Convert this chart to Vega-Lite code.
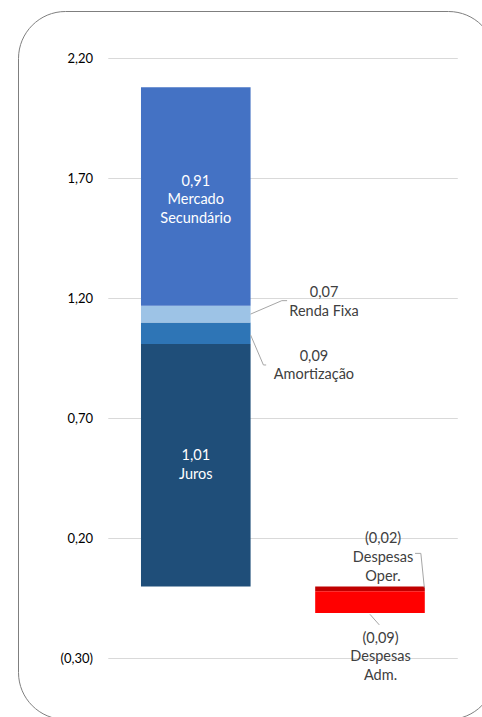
{
  "$schema": "https://vega.github.io/schema/vega-lite/v6.json",
  "width": 477,
  "height": 708,
  "autosize": {"type": "none"},
  "padding": {"left": 18, "top": 11, "right": 0, "bottom": 0},
  "background": "#ffffff",
  "config": {
    "locale": {"number": {"decimal": ",", "thousands": ".", "grouping": [3], "currency": ["R$ ", ""]}},
    "view": {"stroke": "#7f7f7f", "strokeWidth": 1, "cornerRadius": 47},
    "text": {"font": "Lato"}
  },
  "datasets": {
    "fluxo": [
      {"grupo": "Receitas", "item": "Juros", "rotulo": "Juros", "valor": 1.01, "ordem": 1},
      {"grupo": "Receitas", "item": "Amortização", "rotulo": "Amortização", "valor": 0.09, "ordem": 2},
      {"grupo": "Receitas", "item": "Renda Fixa", "rotulo": "Renda Fixa", "valor": 0.07, "ordem": 3},
      {"grupo": "Receitas", "item": "Mercado Secundário", "rotulo": "Mercado\nSecundário", "valor": 0.91, "ordem": 4},
      {"grupo": "Despesas", "item": "Despesas Oper.", "rotulo": "Despesas\nOper.", "valor": -0.02, "ordem": 1},
      {"grupo": "Despesas", "item": "Despesas Adm.", "rotulo": "Despesas\nAdm.", "valor": -0.09, "ordem": 2}
    ],
    "grade": [{"v": -0.3}, {"v": 0.2}, {"v": 0.7}, {"v": 1.2}, {"v": 1.7}, {"v": 2.2}]
  },
  "data": {"name": "fluxo"},
  "transform": [
    {"calculate": "format(datum.valor, '(.2f') + '\\n' + datum.rotulo", "as": "texto"}
  ],
  "layer": [
    {
      "data": {"name": "grade"},
      "mark": {"type": "rule", "color": "#d9d9d9", "strokeWidth": 1},
      "encoding": {
        "y": {"field": "v", "type": "quantitative", "axis": null},
        "x": {"datum": "Receitas", "type": "nominal", "bandPosition": -0.2986, "axis": null},
        "x2": {"datum": "Despesas", "bandPosition": 1.301}
      }
    },
    {
      "data": {"name": "grade"},
      "mark": {"type": "text", "color": "#000000", "fontSize": 13, "align": "right", "baseline": "middle", "dy": 1},
      "encoding": {
        "y": {"field": "v", "type": "quantitative", "axis": null},
        "x": {"datum": "Receitas", "type": "nominal", "bandPosition": -0.438, "axis": null},
        "text": {"field": "v", "type": "quantitative", "format": "(.2f"}
      }
    },
    {
      "mark": {"type": "bar"},
      "encoding": {
        "x": {
          "field": "grupo", "type": "nominal", "axis": null,
          "scale": {"domain": ["Receitas", "Despesas"], "paddingInner": 0.3708, "paddingOuter": 0.5545, "align": 0.6366}
        },
        "y": {
          "field": "valor", "type": "quantitative", "stack": "zero", "axis": null,
          "scale": {"domain": [-0.5521, 2.3979], "nice": false, "zero": false}
        },
        "color": {
          "field": "item", "type": "nominal", "legend": null,
          "scale": {
            "domain": ["Juros", "Amortização", "Renda Fixa", "Mercado Secundário", "Despesas Oper.", "Despesas Adm."],
            "range": ["#1f4e79", "#2e75b6", "#9dc3e6", "#4472c4", "#c00000", "#ff0000"]
          }
        },
        "order": {"field": "ordem", "type": "quantitative"}
      }
    },
    {
      "transform": [
        {"stack": "valor", "groupby": ["grupo"], "sort": [{"field": "ordem"}], "as": ["base", "topo"]},
        {"filter": "datum.item == 'Juros'"},
        {"calculate": "(datum.base + datum.topo) / 2", "as": "meio"}
      ],
      "mark": {"type": "text", "color": "#ffffff", "fontSize": 14.5, "lineBreak": "\n", "lineHeight": 19, "align": "center", "baseline": "middle", "dy": -9.5},
      "encoding": {
        "x": {"field": "grupo", "type": "nominal", "axis": null},
        "y": {"field": "meio", "type": "quantitative", "axis": null},
        "text": {"field": "texto"}
      }
    },
    {
      "transform": [
        {"stack": "valor", "groupby": ["grupo"], "sort": [{"field": "ordem"}], "as": ["base", "topo"]},
        {"filter": "datum.item == 'Mercado Secundário'"},
        {"calculate": "(datum.base + datum.topo) / 2", "as": "meio"}
      ],
      "mark": {"type": "text", "color": "#ffffff", "fontSize": 14.5, "lineBreak": "\n", "lineHeight": 18.8, "align": "center", "baseline": "middle", "dy": -14.8},
      "encoding": {
        "x": {"field": "grupo", "type": "nominal", "axis": null},
        "y": {"field": "meio", "type": "quantitative", "axis": null},
        "text": {"field": "texto"}
      }
    },
    {
      "data": {"values": [{}]},
      "mark": {"type": "rule", "color": "#a6a6a6", "strokeWidth": 1},
      "encoding": {
        "x": {"datum": "Receitas", "type": "nominal", "bandPosition": 1.0, "axis": null},
        "x2": {"datum": "Receitas", "bandPosition": 1.285},
        "y": {"datum": 1.135, "type": "quantitative", "axis": null},
        "y2": {"datum": 1.191}
      }
    },
    {
      "data": {"values": [{}]},
      "mark": {"type": "rule", "color": "#a6a6a6", "strokeWidth": 1},
      "encoding": {
        "x": {"datum": "Receitas", "type": "nominal", "bandPosition": 1.285, "axis": null},
        "x2": {"datum": "Receitas", "bandPosition": 1.333},
        "y": {"datum": 1.191, "type": "quantitative", "axis": null}
      }
    },
    {
      "data": {"values": [{}]},
      "mark": {"type": "rule", "color": "#a6a6a6", "strokeWidth": 1},
      "encoding": {
        "x": {"datum": "Receitas", "type": "nominal", "bandPosition": 1.0, "axis": null},
        "x2": {"datum": "Receitas", "bandPosition": 1.117},
        "y": {"datum": 1.048, "type": "quantitative", "axis": null},
        "y2": {"datum": 0.923}
      }
    },
    {
      "data": {"values": [{}]},
      "mark": {"type": "rule", "color": "#a6a6a6", "strokeWidth": 1},
      "encoding": {
        "x": {"datum": "Receitas", "type": "nominal", "bandPosition": 1.117, "axis": null},
        "x2": {"datum": "Receitas", "bandPosition": 1.142},
        "y": {"datum": 0.923, "type": "quantitative", "axis": null}
      }
    },
    {
      "data": {"values": [{}]},
      "mark": {"type": "rule", "color": "#a6a6a6", "strokeWidth": 1},
      "encoding": {
        "x": {"datum": "Despesas", "type": "nominal", "bandPosition": 0.911, "axis": null},
        "x2": {"datum": "Despesas", "bandPosition": 0.964},
        "y": {"datum": 0.138, "type": "quantitative", "axis": null}
      }
    },
    {
      "data": {"values": [{}]},
      "mark": {"type": "rule", "color": "#a6a6a6", "strokeWidth": 1},
      "encoding": {
        "x": {"datum": "Despesas", "type": "nominal", "bandPosition": 0.964, "axis": null},
        "x2": {"datum": "Despesas", "bandPosition": 0.996},
        "y": {"datum": 0.138, "type": "quantitative", "axis": null},
        "y2": {"datum": -0.005}
      }
    },
    {
      "data": {"values": [{}]},
      "mark": {"type": "rule", "color": "#a6a6a6", "strokeWidth": 1},
      "encoding": {
        "x": {"datum": "Despesas", "type": "nominal", "bandPosition": 0.5, "axis": null},
        "x2": {"datum": "Despesas", "bandPosition": 0.585},
        "y": {"datum": -0.116, "type": "quantitative", "axis": null},
        "y2": {"datum": -0.16}
      }
    },
    {
      "transform": [{"filter": "datum.item == 'Renda Fixa'"}],
      "mark": {"type": "text", "color": "#404040", "fontSize": 14.5, "lineBreak": "\n", "lineHeight": 18.5, "align": "center", "baseline": "middle", "dy": -9.25},
      "encoding": {
        "x": {"datum": "Receitas", "type": "nominal", "bandPosition": 1.67, "axis": null},
        "y": {"datum": 1.1833, "type": "quantitative", "axis": null},
        "text": {"field": "texto"}
      }
    },
    {
      "transform": [{"filter": "datum.item == 'Amortização'"}],
      "mark": {"type": "text", "color": "#404040", "fontSize": 14.5, "lineBreak": "\n", "lineHeight": 18, "align": "center", "baseline": "middle", "dy": -8.5},
      "encoding": {
        "x": {"datum": "Receitas", "type": "nominal", "bandPosition": 1.578, "axis": null},
        "y": {"datum": 0.9196, "type": "quantitative", "axis": null},
        "text": {"field": "texto"}
      }
    },
    {
      "transform": [{"filter": "datum.item == 'Despesas Oper.'"}],
      "mark": {"type": "text", "color": "#404040", "fontSize": 14.5, "lineBreak": "\n", "lineHeight": 18.8, "align": "center", "baseline": "middle", "dy": -18.3},
      "encoding": {
        "x": {"datum": "Despesas", "type": "nominal", "bandPosition": 0.619, "axis": null},
        "y": {"datum": 0.1196, "type": "quantitative", "axis": null},
        "text": {"field": "texto"}
      }
    },
    {
      "transform": [{"filter": "datum.item == 'Despesas Adm.'"}],
      "mark": {"type": "text", "color": "#404040", "fontSize": 14.5, "lineBreak": "\n", "lineHeight": 18.8, "align": "center", "baseline": "middle", "dy": -17.3},
      "encoding": {
        "x": {"datum": "Despesas", "type": "nominal", "bandPosition": 0.596, "axis": null},
        "y": {"datum": -0.2896, "type": "quantitative", "axis": null},
        "text": {"field": "texto"}
      }
    }
  ]
}
